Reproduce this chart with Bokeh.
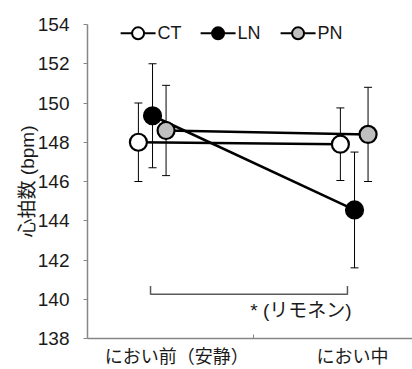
from bokeh.plotting import figure
from bokeh.models import Range1d, FixedTicker, Whisker, ColumnDataSource, TeeHead
from bokeh.core.properties import value
from bokeh.embed import file_html
from bokeh.resources import INLINE

# ---- data ----
phases = ["におい前（安静）", "におい中"]
groups = ["CT", "LN", "PN"]
ct_mean = [148.0, 147.9]
ct_err = [2.0, 1.85]
ln_mean = [149.35, 144.55]
ln_err = [2.65, 2.95]
pn_mean = [148.6, 148.4]
pn_err = [2.3, 2.4]
y_ticks = [138, 140, 142, 144, 146, 148, 150, 152, 154]
y_label = "心拍数 (bpm)"
sig_label = "* (リモネン)"

# ---- styles / layout ----
fills = {"CT": "white", "LN": "black", "PN": "#bfbfbf"}
offsets = {"CT": -0.07, "LN": 0.0, "PN": 0.067}
label_pos = [0.12, 0.99]
AX = "#868686"
JP = "Noto Sans CJK JP"
LAT = "Liberation Sans"
MIX = "Liberation Sans, Noto Sans CJK JP"

p = figure(width=412, height=369, output_backend="svg", toolbar_location=None,
           x_range=Range1d(-0.322, 1.287), y_range=Range1d(138, 154),
           min_border_left=87, min_border_right=0, min_border_top=24, min_border_bottom=28)
p.outline_line_color = None
p.grid.visible = False
p.background_fill_color = "white"
p.border_fill_color = "white"

# y axis
ya = p.yaxis[0]
ya.ticker = FixedTicker(ticks=y_ticks)
ya.axis_line_color = AX
ya.axis_line_width = 1.5
ya.major_tick_line_color = AX
ya.major_tick_out = 4
ya.major_tick_in = 0
ya.minor_tick_line_color = None
ya.major_label_text_font = LAT
ya.major_label_text_font_size = "19px"
ya.major_label_text_color = "#1a1a1a"
ya.major_label_standoff = 14
ya.axis_label = y_label
ya.axis_label_text_font = MIX
ya.axis_label_text_font_size = "19px"
ya.axis_label_text_font_style = "normal"
ya.axis_label_text_color = "#1a1a1a"
ya.axis_label_standoff = -3

# x axis
xa = p.xaxis[0]
xa.ticker = FixedTicker(ticks=label_pos, minor_ticks=[0.5])
xa.major_label_overrides = {label_pos[0]: phases[0], label_pos[1]: phases[1]}
xa.axis_line_color = AX
xa.axis_line_width = 1.5
xa.major_tick_line_color = None
xa.major_tick_out = 0
xa.major_tick_in = 0
xa.minor_tick_line_color = AX
xa.minor_tick_in = 4
xa.minor_tick_out = 0
xa.major_label_text_font = MIX
xa.major_label_text_font_size = "18px"
xa.major_label_text_color = "#1a1a1a"
xa.major_label_standoff = 8

# significance bracket
br_l, br_r, br_base, br_top = -0.01, 0.965, 140.26, 140.67
p.line([br_l, br_l, br_r, br_r], [br_top, br_base, br_base, br_top], line_color="#595959", line_width=1.5)
p.text(x=[0.735], y=[139.45], text=[sig_label], text_font=value(MIX), text_font_size="19px",
       text_align="center", text_baseline="middle", text_color="#1a1a1a")

series = {"CT": (ct_mean, ct_err), "LN": (ln_mean, ln_err), "PN": (pn_mean, pn_err)}
xs_base = [0, 1]

# connecting lines
for g in groups:
    m, e = series[g]
    xs = [x + offsets[g] for x in xs_base]
    p.line(xs, m, line_color="black", line_width=2.5)

# error bars
for g in groups:
    m, e = series[g]
    xs = [x + offsets[g] for x in xs_base]
    src = ColumnDataSource(dict(base=xs, upper=[a + b for a, b in zip(m, e)], lower=[a - b for a, b in zip(m, e)]))
    w = Whisker(base="base", upper="upper", lower="lower", source=src, line_color="black", line_width=1,
                upper_head=TeeHead(size=8, line_color="black", line_width=1),
                lower_head=TeeHead(size=8, line_color="black", line_width=1), level="glyph")
    p.add_layout(w)

# markers
for g in groups:
    m, e = series[g]
    xs = [x + offsets[g] for x in xs_base]
    p.scatter(xs, m, size=17, fill_color=fills[g], line_color="black", line_width=2.2, level="overlay")

# manual legend
leg_y = 153.55
leg_x0 = -0.158
leg_pitch = 0.396
leg_len = 0.173
leg_txt = 0.183
for i, g in enumerate(groups):
    x0 = leg_x0 + i * leg_pitch
    p.line([x0, x0 + leg_len], [leg_y, leg_y], line_color="black", line_width=2)
    p.scatter([x0 + leg_len / 2], [leg_y], size=12, fill_color=fills[g], line_color="black", line_width=2)
    p.text(x=[x0 + leg_txt], y=[leg_y], text=[g], text_font=value(LAT), text_font_size="18px",
           text_align="left", text_baseline="middle", text_color="#1a1a1a")

open("out.html", "w").write(file_html(p, INLINE))
